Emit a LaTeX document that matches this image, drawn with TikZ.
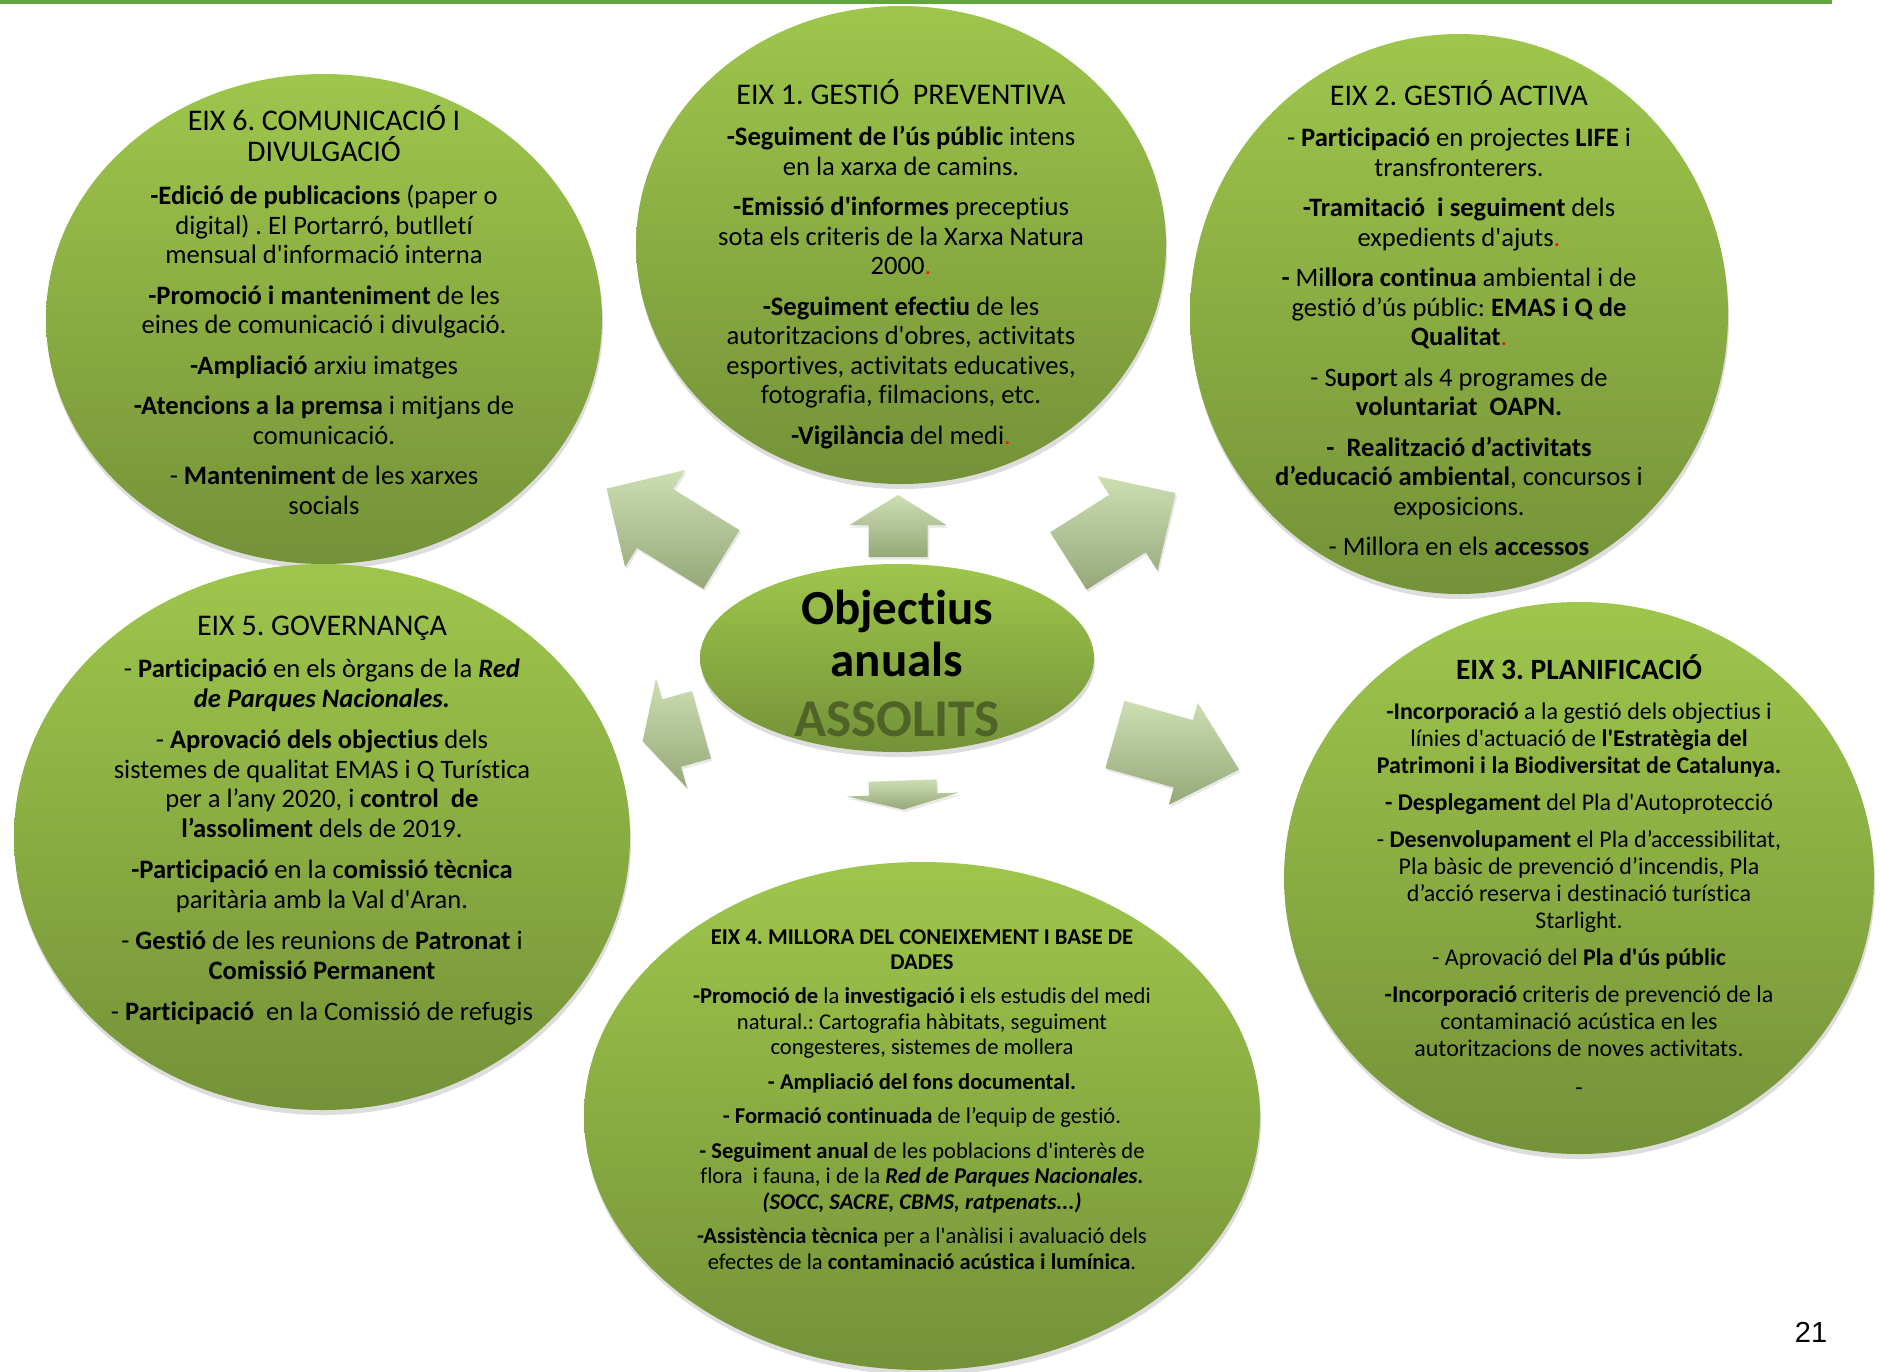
\documentclass[tikz,border=0pt]{standalone}
\usepackage{fontspec}
\setmainfont{Carlito}[Ligatures={TeX,NoCommon}]
\newfontfamily\numfont{Liberation Sans}
\usetikzlibrary{shapes.geometric,shadows}
\definecolor{gtop}{RGB}{158,198,76}
\definecolor{gbot}{RGB}{116,146,56}
\definecolor{atop}{RGB}{205,222,178}
\definecolor{abot}{RGB}{150,168,122}
\definecolor{assol}{RGB}{79,98,40}
\definecolor{topline}{RGB}{98,166,62}
\definecolor{reddot}{RGB}{235,30,30}
\frenchspacing
\newcommand{\aq}{\textquotesingle}
\newcommand{\rd}{{\color{reddot}.}}
\newcommand{\setfs}[2]{\fontsize{#1}{#2}\selectfont}
\newcommand{\apt}[6]{\coordinate (#1) at ({#2+(#5)*cos(#4)+(#6)*sin(#4)},{#3-(#5)*sin(#4)+(#6)*cos(#4)});}
\newcommand{\blockarrow}[8]{%
 \pgfmathsetmacro\baA{#5/2}%
 \pgfmathsetmacro\baB{#5/2-#6}%
 \pgfmathsetmacro\baC{-#5/2}%
 \pgfmathsetmacro\baW{#7/2}%
 \pgfmathsetmacro\baS{#8/2}%
 \apt{#1-1}{#2}{#3}{#4}{\baA}{0}
 \apt{#1-2}{#2}{#3}{#4}{\baB}{\baW}
 \apt{#1-3}{#2}{#3}{#4}{\baB}{\baS}
 \apt{#1-4}{#2}{#3}{#4}{\baC}{\baS}
 \apt{#1-5}{#2}{#3}{#4}{\baC}{-\baS}
 \apt{#1-6}{#2}{#3}{#4}{\baB}{-\baS}
 \apt{#1-7}{#2}{#3}{#4}{\baB}{-\baW}
 \shade[arrowfill] (#1-1) -- (#1-2) -- (#1-3) -- (#1-4) -- (#1-5) -- (#1-6) -- (#1-7) -- cycle;}
\tikzset{
 bubble/.style={ellipse, draw=none, top color=gtop, bottom color=gbot, inner sep=0pt,
   drop shadow={shadow xshift=1pt, shadow yshift=-5pt, opacity=0.22, fill=black!60}},
 arrowfill/.style={top color=atop, bottom color=abot, draw=none,
   drop shadow={shadow xshift=1.5pt, shadow yshift=-2.5pt, opacity=0.18, fill=black!50}},
 title/.style={align=center, inner sep=0pt, anchor=north, text=black, font=\setfs{30}{31}},
 btitle/.style={align=center, inner sep=0pt, anchor=north, text=black, font=\bfseries\setfs{29.5}{31}},
 body/.style={align=center, inner sep=0pt, anchor=north, text=black, font=\setfs{26.6}{29.5}},
 ctext/.style={inner sep=0pt, anchor=base, font=\bfseries\setfs{49}{52}},
}
\begin{document}
\begin{tikzpicture}[x=1pt,y=-1pt]
\useasboundingbox (0,0) rectangle (1881,1371);
\fill[white] (0,0) rectangle (1881,1371);
\coordinate (l1) at (0,2);
\coordinate (l2) at (1832,2);
\draw[topline, line width=4pt] (l1) -- (l2);

% ellipses
\node[bubble, minimum width=556pt, minimum height=490pt] (e6) at (324,319) {};
\node[bubble, minimum width=530pt, minimum height=478pt] (e1) at (901,245) {};
\node[bubble, minimum width=538pt, minimum height=560pt] (e2) at (1459,314) {};
\node[bubble, minimum width=616pt, minimum height=546pt] (e5) at (322,837) {};
\node[bubble, minimum width=590pt, minimum height=552pt] (e3) at (1579,878) {};
\node[bubble, minimum width=676pt, minimum height=508pt] (e4) at (922,1116) {};
\node[bubble, minimum width=394pt, minimum height=188pt] (ec) at (897,658) {};

% arrows
\blockarrow{aN}{898}{526}{90}{62}{30}{97}{59}
\blockarrow{aNW}{664}{524}{148.3}{135}{57}{114}{69}
\blockarrow{aNE}{1122}{527}{32.4}{127}{57}{112}{68}
\blockarrow{aSW}{672}{733}{195.8}{61}{30}{114}{70}
\blockarrow{aSE}{1177}{752}{-15.8}{129}{58}{106}{70}
\blockarrow{aS}{903}{795}{-88}{29}{15}{112}{68}

% centre
\node[ctext] (c1) at (897,624) {Objectius};
\node[ctext] (c2) at (897,676) {anuals};
\node[ctext, text=assol, font=\bfseries\setfs{53}{56}] (c3) at (897,736) {ASSOLITS};

% EIX 6
\node[title] (t6) at (324,100.6) {\rule{0pt}{30pt}EIX 6. COMUNICACIÓ I\\DIVULGACIÓ};
\node[body] (b6) at (324,177.8) {\rule{0pt}{26.6pt}\textbf{-Edició de publicacions} (paper o\\digital) . El Portarró, butlletí\\mensual d\aq informació interna\\[11pt]
\textbf{-Promoció i manteniment} de les\\eines de comunicació i divulgació.\\[11pt]
\textbf{-Ampliació} arxiu imatges\\[11pt]
\textbf{-Atencions a la premsa} i mitjans de\\comunicació.\\[11pt]
- \textbf{Manteniment} de les xarxes\\socials};

% EIX 1
\node[title] (t1) at (901,74.6) {\rule{0pt}{30pt}EIX 1. GESTIÓ~ PREVENTIVA};
\node[body] (b1) at (901,118.8) {\rule{0pt}{26.6pt}\textbf{-Seguiment de l’ús públic} intens\\en la xarxa de camins.\\[11pt]
\textbf{-Emissió d\aq informes} preceptius\\sota els criteris de la Xarxa Natura\\2000\rd\\[11pt]
\textbf{-Seguiment efectiu} de les\\autoritzacions d\aq obres, activitats\\esportives, activitats educatives,\\fotografia, filmacions, etc.\\[11pt]
\textbf{-Vigilància} del medi\rd};

% EIX 2
\node[title] (t2) at (1459,75.6) {\rule{0pt}{30pt}EIX 2. GESTIÓ ACTIVA};
\node[body] (b2) at (1459,119.8) {\rule{0pt}{26.6pt}- \textbf{Participació} en projectes \textbf{LIFE} i\\transfronterers.\\[11pt]
\textbf{-Tramitació~ i seguiment} dels\\expedients d\aq ajuts\rd\\[11pt]
\textbf{- }Mi\textbf{llora continua} ambiental i de\\gestió d’ús públic: \textbf{EMAS i Q de}\\\textbf{Qualitat}\rd\\[11pt]
- S\textbf{upor}t als 4 programes de\\\textbf{voluntariat~ OAPN.}\\[11pt]
\textbf{-~ Realització d’activitats}\\\textbf{d’educació ambiental}, concursos i\\exposicions.\\[11pt]
- Millora en els \textbf{accessos}};

% EIX 5
\node[title] (t5) at (322,605.6) {\rule{0pt}{30pt}EIX 5. GOVERNANÇA};
\node[body] (b5) at (322,650.8) {\rule{0pt}{26.6pt}- \textbf{Participació} en els òrgans de la \textbf{\textit{Red}}\\\textbf{\textit{de Parques Nacionales.}}\\[12pt]
- \textbf{Aprovació dels objectius} dels\\sistemes de qualitat EMAS i Q Turística\\per a l’any 2020, i \textbf{control~ de}\\\textbf{l’assoliment} dels de 2019.\\[12pt]
\textbf{-Participació} en la c\textbf{omissió tècnica}\\paritària amb la Val d\aq Aran.\\[12pt]
- \textbf{Gestió} de les reunions de \textbf{Patronat} i\\\textbf{Comissió Permanent}\\[12pt]
- \textbf{Participació}~ en la Comissió de refugis};

% EIX 3
\node[btitle] (t3) at (1579,649.9) {\rule{0pt}{29.5pt}EIX 3. PLANIFICACIÓ};
\node[body, font=\setfs{24}{27}] (b3) at (1579,695.7) {\rule{0pt}{24pt}\textbf{-Incorporació} a la gestió dels objectius i\\línies d\aq actuació de \textbf{l\aq Estratègia del}\\\textbf{Patrimoni i la Biodiversitat de Catalunya.}\\[10pt]
\textbf{- Desplegament} del Pla d\aq Autoprotecció\\[10pt]
- \textbf{Desenvolupament} el Pla d’accessibilitat,\\Pla bàsic de prevenció d’incendis, Pla\\d’acció reserva i destinació turística\\Starlight.\\[10pt]
- Aprovació del \textbf{Pla d\aq ús públic}\\[10pt]
\textbf{-Incorporació} criteris de prevenció de la\\contaminació acústica en les\\autoritzacions de noves activitats.\\[12pt]
-};

% EIX 4
\node[btitle, font=\bfseries\setfs{22.6}{25}] (t4) at (922,921.6) {\rule{0pt}{22.6pt}EIX 4. MILLORA DEL CONEIXEMENT I BASE DE\\DADES};
\node[body, font=\setfs{22.6}{25.5}] (b4) at (922,980.7) {\rule{0pt}{22.6pt}\textbf{-Promoció de} la \textbf{investigació i} els estudis del medi\\natural.: Cartografia hàbitats, seguiment\\congesteres, sistemes de mollera\\[9pt]
\textbf{- Ampliació del fons documental.}\\[9pt]
\textbf{- Formació continuada} de l’equip de gestió.\\[9pt]
\textbf{- Seguiment anual} de les poblacions d\aq interès de\\flora~ i fauna, i de la \textbf{\textit{Red de Parques Nacionales.}}\\\textbf{\textit{(SOCC, SACRE, CBMS, ratpenats...)}}\\[9pt]
\textbf{-Assistència tècnica} per a l\aq anàlisi i avaluació dels\\efectes de la \textbf{contaminació acústica i lumínica}.};

% page number
\node[anchor=base, inner sep=0pt, font=\numfont\setfs{29}{32}] (pg) at (1811,1342) {21};
\end{tikzpicture}
\end{document}
